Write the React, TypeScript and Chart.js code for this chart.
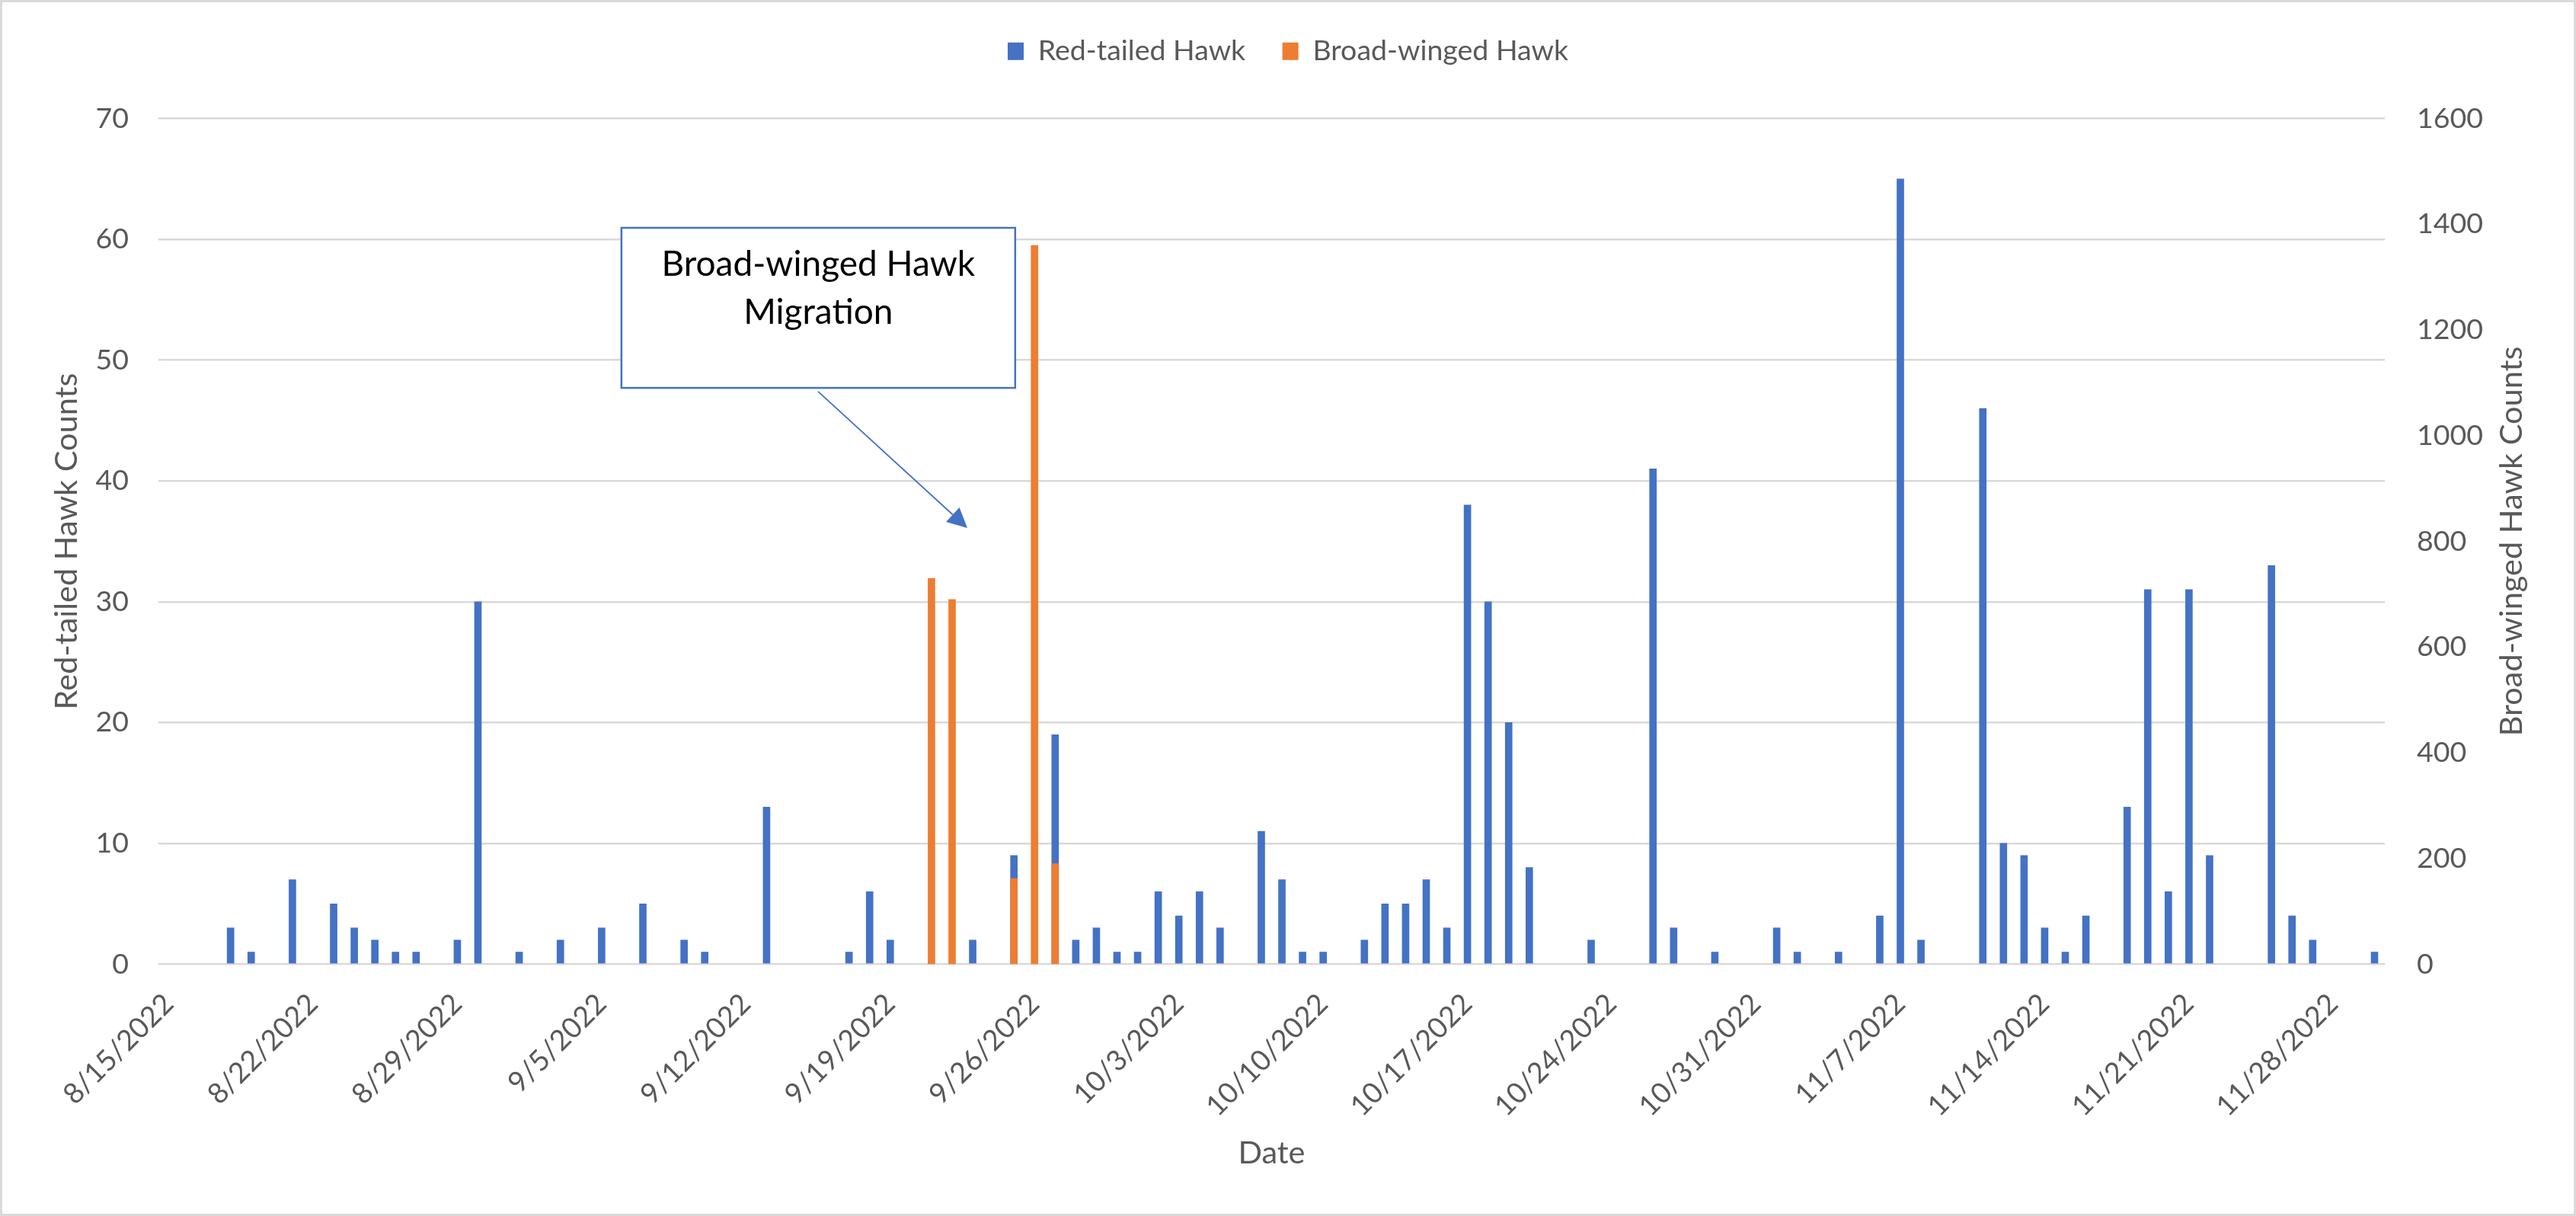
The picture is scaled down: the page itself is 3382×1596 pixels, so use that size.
import React, { useEffect, useRef } from 'react';
import { Chart, registerables } from 'chart.js';

Chart.register(...registerables);

// ---------- Data ----------
const firstDay = '2022-08-15';
const lastDay = '2022-11-30';
const tickEveryDays = 7;

const redTailedDates = [
  '8/18/2022', '8/19/2022', '8/21/2022', '8/23/2022', '8/24/2022', '8/25/2022', '8/26/2022', '8/27/2022',
  '8/29/2022', '8/30/2022', '9/1/2022', '9/3/2022', '9/5/2022', '9/7/2022', '9/9/2022', '9/10/2022',
  '9/13/2022', '9/17/2022', '9/18/2022', '9/19/2022', '9/23/2022', '9/25/2022', '9/27/2022', '9/28/2022',
  '9/29/2022', '9/30/2022', '10/1/2022', '10/2/2022', '10/3/2022', '10/4/2022', '10/5/2022', '10/7/2022',
  '10/8/2022', '10/9/2022', '10/10/2022', '10/12/2022', '10/13/2022', '10/14/2022', '10/15/2022', '10/16/2022',
  '10/17/2022', '10/18/2022', '10/19/2022', '10/20/2022', '10/23/2022', '10/26/2022', '10/27/2022', '10/29/2022',
  '11/1/2022', '11/2/2022', '11/4/2022', '11/6/2022', '11/7/2022', '11/8/2022', '11/11/2022', '11/12/2022',
  '11/13/2022', '11/14/2022', '11/15/2022', '11/16/2022', '11/18/2022', '11/19/2022', '11/20/2022', '11/21/2022',
  '11/22/2022', '11/25/2022', '11/26/2022', '11/27/2022', '11/30/2022',
];
const redTailedCounts = [
  3, 1, 7, 5, 3, 2, 1, 1,
  2, 30, 1, 2, 3, 5, 2, 1,
  13, 1, 6, 2, 2, 9, 19, 2,
  3, 1, 1, 6, 4, 6, 3, 11,
  7, 1, 1, 2, 5, 5, 7, 3,
  38, 30, 20, 8, 2, 41, 3, 1,
  3, 1, 1, 4, 65, 2, 46, 10,
  9, 3, 1, 4, 13, 31, 6, 31,
  9, 33, 4, 2, 1,
];

const broadWingedDates = ['9/21/2022', '9/22/2022', '9/25/2022', '9/26/2022', '9/27/2022'];
const broadWingedCounts = [730, 690, 162, 1360, 190];

const calloutLines = ['Broad-winged Hawk', 'Migration'];
const rightAxisTitle = 'Broad-winged Hawk Counts';

// ---------- Styles / layout ----------
const W = 3382;
const H = 1596;
const FONT = 'Lato, "Noto Sans", sans-serif';
const BLUE = '#4472C4';
const ORANGE = '#ED7D31';
const GRID = '#D9D9D9';
const TEXT = '#595959';

// callout anchored in data units (x: day index, y: left-axis units)
const calloutBox = { x0: 21.96, x1: 41.06, y0: 60.95, y1: 47.7 };
const calloutArrow = { fromX: 31.5, fromY: 47.4, toX: 38.74, toY: 36.1 };

function buildDays(start: string, end: string): string[] {
  const out: string[] = [];
  const d = new Date(start + 'T00:00:00Z');
  const e = new Date(end + 'T00:00:00Z');
  while (d.getTime() <= e.getTime()) {
    out.push(`${d.getUTCMonth() + 1}/${d.getUTCDate()}/${d.getUTCFullYear()}`);
    d.setUTCDate(d.getUTCDate() + 1);
  }
  return out;
}

const days = buildDays(firstDay, lastDay);

const framePlugin = {
  id: 'frame',
  beforeDraw(chart: any) {
    const ctx = chart.ctx;
    ctx.save();
    ctx.fillStyle = '#FFFFFF';
    ctx.fillRect(0, 0, chart.width, chart.height);
    ctx.restore();
  },
  afterDraw(chart: any) {
    const ctx = chart.ctx;
    ctx.save();
    // right axis title, reading bottom-to-top like the left one
    const s = chart.scales.y1;
    const area = chart.chartArea;
    ctx.translate(s.right - 84, (area.top + area.bottom) / 2);
    ctx.rotate(-Math.PI / 2);
    ctx.fillStyle = TEXT;
    ctx.font = `41.5px ${FONT}`;
    ctx.textAlign = 'center';
    ctx.textBaseline = 'middle';
    ctx.fillText(rightAxisTitle, 0, 0);
    ctx.restore();
    ctx.save();
    ctx.strokeStyle = GRID;
    ctx.lineWidth = 3;
    ctx.strokeRect(1.5, 1.5, chart.width - 3, chart.height - 3);
    ctx.restore();
  },
};

const calloutPlugin = {
  id: 'callout',
  afterDatasetsDraw(chart: any) {
    const { ctx, scales } = chart;
    const x = scales.x;
    const y = scales.y;
    const left = x.getPixelForValue(calloutBox.x0);
    const right = x.getPixelForValue(calloutBox.x1);
    const top = y.getPixelForValue(calloutBox.y0);
    const bottom = y.getPixelForValue(calloutBox.y1);
    ctx.save();
    ctx.fillStyle = '#FFFFFF';
    ctx.fillRect(left, top, right - left, bottom - top);
    ctx.strokeStyle = BLUE;
    ctx.lineWidth = 2.5;
    ctx.strokeRect(left, top, right - left, bottom - top);
    ctx.fillStyle = '#000000';
    ctx.font = `46px ${FONT}`;
    ctx.textAlign = 'center';
    ctx.textBaseline = 'middle';
    const cx = (left + right) / 2;
    ctx.fillText(calloutLines[0], cx, top + 48);
    ctx.fillText(calloutLines[1], cx, top + 111);
    const ax = x.getPixelForValue(calloutArrow.fromX);
    const ay = y.getPixelForValue(calloutArrow.fromY);
    const bx = x.getPixelForValue(calloutArrow.toX);
    const by = y.getPixelForValue(calloutArrow.toY);
    const ang = Math.atan2(by - ay, bx - ax);
    const headLen = 26;
    const headHalf = 13;
    const baseX = bx - headLen * Math.cos(ang);
    const baseY = by - headLen * Math.sin(ang);
    ctx.strokeStyle = BLUE;
    ctx.lineWidth = 1.8;
    ctx.beginPath();
    ctx.moveTo(ax, ay);
    ctx.lineTo(baseX, baseY);
    ctx.stroke();
    ctx.fillStyle = BLUE;
    ctx.beginPath();
    ctx.moveTo(bx, by);
    ctx.lineTo(baseX + headHalf * Math.sin(ang), baseY - headHalf * Math.cos(ang));
    ctx.lineTo(baseX - headHalf * Math.sin(ang), baseY + headHalf * Math.cos(ang));
    ctx.closePath();
    ctx.fill();
    ctx.restore();
  },
};

export default function App() {
  const canvasRef = useRef<HTMLCanvasElement | null>(null);

  useEffect(() => {
    if (!canvasRef.current) return;
    const chart = new Chart(canvasRef.current, {
      type: 'bar',
      data: {
        labels: days,
        datasets: [
          {
            label: 'Red-tailed Hawk',
            data: redTailedDates.map((d, i) => ({ x: d, y: redTailedCounts[i] })),
            backgroundColor: BLUE,
            borderWidth: 0,
            yAxisID: 'y',
            grouped: false,
            barThickness: 9,
            order: 1,
          },
          {
            label: 'Broad-winged Hawk',
            data: broadWingedDates.map((d, i) => ({ x: d, y: broadWingedCounts[i] })),
            backgroundColor: ORANGE,
            borderWidth: 0,
            yAxisID: 'y1',
            grouped: false,
            barThickness: 9,
            order: 0,
          },
        ],
      },
      options: {
        responsive: false,
        maintainAspectRatio: false,
        animation: false,
        layout: { padding: 0 },
        plugins: {
          legend: {
            position: 'top',
            weight: 3000,
            labels: {
              font: { family: FONT, size: 37.5 },
              color: TEXT,
              boxWidth: 21,
              boxHeight: 23,
              padding: 48.5,
              sort: (a: any, b: any) => a.datasetIndex - b.datasetIndex,
            },
          },
          title: {
            display: true,
            text: '',
            position: 'top',
            weight: 2000,
            font: { family: FONT, size: 10, lineHeight: 1.2 },
            padding: { top: 23.75, bottom: 23.75 },
          },
          tooltip: { enabled: false },
        },
        scales: {
          x: {
            type: 'category',
            offset: true,
            grid: { display: false, drawTicks: false },
            border: { display: false },
            ticks: {
              autoSkip: false,
              minRotation: 45,
              maxRotation: 45,
              padding: 30,
              color: TEXT,
              font: { family: FONT, size: 37.5 },
              callback: (_v: any, i: number) => (i % tickEveryDays === 0 ? days[i] : ''),
            },
            title: {
              display: true,
              text: 'Date',
              color: TEXT,
              font: { family: FONT, size: 41.5 },
              padding: { top: 0, bottom: 57 },
            },
            afterFit: (s: any) => {
              s.height = 330.5;
            },
          },
          y: {
            type: 'linear',
            position: 'left',
            min: 0,
            max: 70,
            ticks: {
              stepSize: 10,
              padding: 39,
              color: TEXT,
              font: { family: FONT, size: 37.5 },
              callback: (v: any) => String(v),
            },
            grid: { color: GRID, lineWidth: 2.5, drawTicks: false },
            border: { display: false },
            title: {
              display: true,
              text: 'Red-tailed Hawk Counts',
              color: TEXT,
              font: { family: FONT, size: 41.5 },
              padding: { top: 63, bottom: 0 },
            },
            afterFit: (s: any) => {
              s.width = 208;
            },
          },
          y1: {
            type: 'linear',
            position: 'right',
            min: 0,
            max: 1600,
            ticks: {
              stepSize: 200,
              padding: 42,
              color: TEXT,
              font: { family: FONT, size: 37.5 },
              callback: (v: any) => String(v),
            },
            grid: { display: false, drawTicks: false },
            border: { display: false },
            title: { display: false },
            afterFit: (s: any) => {
              s.width = 251;
            },
          },
        },
      } as any,
      plugins: [framePlugin, calloutPlugin],
    });
    return () => chart.destroy();
  }, []);

  return (
    <div style={{ position: 'fixed', left: 0, top: 0, width: W, height: H, background: '#fff' }}>
      <canvas ref={canvasRef} width={W} height={H} style={{ display: 'block', width: W, height: H }} />
    </div>
  );
}
